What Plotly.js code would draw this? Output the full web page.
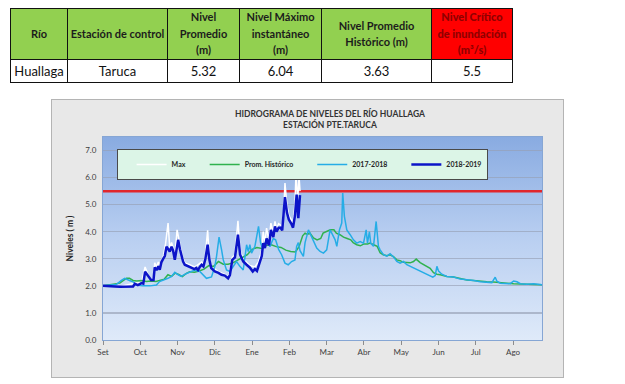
<!DOCTYPE html>
<html>
<head>
<meta charset="utf-8">
<script src="https://cdn.plot.ly/plotly-3.0.1.min.js"></script>
<style>
html,body{margin:0;padding:0;background:#fff;width:625px;height:384px;overflow:hidden;font-family:Lato,'Open Sans',sans-serif;}
#tbl{position:absolute;left:10px;top:8px;border-collapse:collapse;table-layout:fixed;width:502px;}
#tbl th,#tbl td{border:1px solid #111;text-align:center;vertical-align:middle;padding:0;white-space:pre-line;}
#tbl th{background:#92d050;font-weight:700;font-size:11px;line-height:16.5px;color:#1c1c1c;height:50px;}
#tbl th.crit{background:#ff0000;color:#8f0000;font-weight:900;}
#tbl td{font-size:13px;color:#111;height:22px;}
#chart{position:absolute;left:52px;top:100px;width:511px;height:277px;outline:1px solid #b4b4b4;}
</style>
</head>
<body>
<table id="tbl"><colgroup id="cols"></colgroup><thead><tr id="hrow"></tr></thead><tbody><tr id="drow"></tr></tbody></table>
<div id="chart"></div>
<script>
// ---------- table data ----------
const tableHeaders = [
  ['Río'],
  ['Estación de control'],
  ['Nivel', 'Promedio', '(m)'],
  ['Nivel Máximo', 'instantáneo', '(m)'],
  ['Nivel Promedio', 'Histórico  (m)'],
  ['Nivel Crítico', 'de inundación', '(m³/s)']
];
const tableRow = ['Huallaga', 'Taruca', '5.32', '6.04', '3.63', '5.5'];
const criticalLevel = 5.5;

// ---------- chart data ----------
const months = ['Set','Oct','Nov','Dic','Ene','Feb','Mar','Abr','May','Jun','Jul','Ago'];
const monthStartDays = [0,31,62,93,124,155,186,217,248,279,310,341];
const seasonDays = 365;

const maxDays = [0,14,26.5,32,35,37.5,40,42,43,44.5,46,47.2,48.6,50,52,54.1,55.5,57,58.3,59.7,61.6,63,64.5,66.6,68,72,76,78,80.5,82,83.5,85,87,88.5,90,96,101.3,104,105.5,107.5,109.7,112.2,114,116.6,122,126.3,129.2,130.5,132,133.2,134.6,136,138,139.6,141.6,143,144.3,146,147.5,149,150.2,151.3,153,154.5,156.5,158,159.6,160.5,161.8,163,163.8];
const maxVals = [2.00,1.98,2.10,2.12,2.70,2.40,2.25,2.28,2.85,2.70,2.88,2.72,2.95,3.05,3.55,4.32,3.40,3.60,3.40,3.05,4.07,3.70,3.40,3.00,2.85,2.78,2.70,2.75,2.85,2.88,2.80,3.10,4.05,3.00,2.72,2.52,2.42,2.32,2.55,3.05,3.15,4.40,3.30,3.00,2.75,2.70,2.88,3.10,3.30,4.00,3.60,4.13,3.65,4.32,3.95,4.38,4.10,4.30,4.25,4.20,4.70,5.80,4.95,4.60,4.45,4.30,5.00,6.25,5.10,6.05,5.50];

const histDays = [0,8,14,17,19.5,22,25,28,32,36,40,44,48,51,54,57,60,63,66,69,72,76,80,84,88,92,96,100,104,108,112,116,120,124,128,132,136,140,144,148,152,156,160,163,166,168,170,172,175,178,181,183,186,189,192,194,197,200,203,206,208,211,214,217,220,222,225,228,230.4,233,236,238.7,241.5,244.3,247,249.8,252.6,255.4,258.2,260.4,263.7,266.5,269.3,272,274.8,277.6,280.4,283,286,291.5,297,302.6,308,313.7,319.2,324.8,330.3,335.9,341.4,347,352.5,358,365];
const histVals = [2.00,2.05,2.10,2.20,2.28,2.28,2.20,2.18,2.20,2.16,2.18,2.16,2.22,2.25,2.41,2.35,2.47,2.42,2.34,2.45,2.52,2.50,2.55,2.62,2.75,2.72,2.90,2.80,2.80,2.85,2.95,3.05,3.15,3.35,3.42,3.38,3.50,3.52,3.45,3.42,3.32,3.27,3.25,3.45,3.85,3.95,3.90,3.95,3.77,3.70,3.75,3.95,4.01,4.07,4.07,3.95,3.89,3.80,3.75,3.70,3.60,3.52,3.48,3.55,3.55,3.58,3.52,3.46,3.22,3.15,3.11,3.15,3.08,2.96,2.93,2.87,2.86,2.85,2.90,2.99,2.86,2.78,2.72,2.65,2.49,2.43,2.41,2.38,2.35,2.33,2.27,2.22,2.20,2.17,2.15,2.14,2.13,2.10,2.08,2.07,2.08,2.07,2.04];

const y1718Days = [0,8,11,15.3,18,22,25,27.8,33,39,44.4,47,51.4,54,57,59.7,62.5,65,69,72,76,80.5,83.3,86,90.2,93,94.4,96.5,98.6,100,102.7,105.5,108.3,111,113.8,116.6,119.4,120.8,122.1,123.5,126.3,129.3,131,132.5,134.6,136.5,138.8,141.6,143.5,146,148.5,151.3,154,156.8,159.6,161,162.4,163.8,166.6,168,170.8,173.5,176.3,177.7,180.5,183.3,186,188.8,190.2,193,194.4,196.6,198.5,199.3,200.7,202.7,205.5,208.2,211,213.8,216.6,218.8,219.9,221.5,222.6,224.9,227.1,229,230.4,233.2,236,238.7,241.5,244.3,247,249.8,252.6,255.4,258.2,263.7,269.3,274.2,276.2,277.6,279,281.7,285.9,291.5,297,302.6,308.1,313.7,319.2,323.3,326.1,327.5,330.3,335.9,338.6,341.4,344.2,347,352.5,358.1,365];
const y1718Vals = [2.00,2.02,2.05,2.20,2.28,2.20,2.15,2.03,2.00,2.00,2.03,2.16,2.22,2.28,2.35,2.50,2.41,2.35,2.45,2.50,2.58,2.53,2.41,2.28,2.33,2.72,3.09,3.80,3.33,2.96,2.59,2.53,2.72,2.90,2.72,2.59,3.52,3.27,3.52,3.21,3.46,4.20,3.60,3.40,3.55,3.70,3.45,3.75,3.70,3.35,3.15,2.84,2.78,2.90,2.96,3.46,3.60,3.30,3.09,3.60,4.07,3.83,3.58,3.40,3.27,3.21,3.33,4.07,3.95,3.70,3.46,4.07,4.32,5.43,4.57,4.07,3.89,3.70,3.58,3.64,3.58,4.07,3.58,4.00,3.58,3.46,4.38,3.46,3.33,3.15,3.10,3.19,3.07,2.90,2.84,2.90,2.78,2.72,2.65,2.53,2.43,2.32,2.38,2.72,2.55,2.43,2.35,2.33,2.25,2.23,2.20,2.15,2.14,2.12,2.32,2.17,2.10,2.08,2.08,2.18,2.15,2.08,2.06,2.08,2.04];

const y1819Days = [0,5,10,14,20,25,26.5,29,32,33.5,35,37.5,40,42,43,44.5,46,47.2,48.6,50,51.4,52.8,54.1,55.5,57,58.3,59.7,61.1,62.5,64,65.2,66.6,68,70.8,73.6,76,77.5,79,80.5,82,83.5,85,87,88.5,90,93,96,98.6,101.3,104,105.5,107.5,109.7,112.2,114,116.6,119.4,122,124.5,126.3,128,129.2,130.5,132,133.2,134.6,136,138,139.6,141.6,143,144.3,146,147.5,149,150.2,151.3,153,154.5,156.5,158,159.6,161,162.4,163.8];
const y1819Vals = [2.00,2.00,1.98,1.97,1.97,1.98,2.08,2.03,2.10,2.08,2.52,2.35,2.22,2.22,2.68,2.58,2.72,2.60,2.88,3.00,3.10,3.45,3.35,3.27,3.45,3.30,2.96,3.40,3.70,3.35,3.15,2.90,2.78,2.72,2.65,2.62,2.66,2.58,2.70,2.78,2.72,2.97,3.52,2.95,2.66,2.53,2.48,2.41,2.38,2.28,2.40,2.96,3.05,3.89,3.15,2.90,2.78,2.68,2.53,2.62,2.55,2.72,2.96,3.10,3.58,3.40,3.75,3.50,4.07,3.80,4.20,4.00,4.15,4.15,4.05,4.60,5.28,4.70,4.45,4.30,4.15,4.60,5.37,4.50,5.35];

// ---------- build table ----------
const colWidths = [57,100,72,82,110,81];
const cols = document.getElementById('cols');
colWidths.forEach(w => { const c = document.createElement('col'); c.style.width = w + 'px'; cols.appendChild(c); });
const hrow = document.getElementById('hrow');
tableHeaders.forEach((lines, i) => {
  const th = document.createElement('th');
  th.textContent = lines.join('\n');
  if (i === tableHeaders.length - 1) th.className = 'crit';
  hrow.appendChild(th);
});
const drow = document.getElementById('drow');
tableRow.forEach(v => { const td = document.createElement('td'); td.textContent = v; drow.appendChild(td); });

// ---------- chart ----------
const FONT = 'Lato, "Open Sans", sans-serif';
const gradSvg = "<svg xmlns='http://www.w3.org/2000/svg' width='440' height='204' viewBox='0 0 440 204' preserveAspectRatio='none'>" +
  "<defs><linearGradient id='g' x1='0' y1='0' x2='0' y2='1'>" +
  "<stop offset='0' stop-color='#89abe1'/><stop offset='0.5' stop-color='#b9cff1'/><stop offset='1' stop-color='#dfeaf9'/>" +
  "</linearGradient></defs><rect width='440' height='204' fill='url(#g)'/></svg>";
const gradSrc = 'data:image/svg+xml;charset=utf-8,' + encodeURIComponent(gradSvg);

const traces = [
  {x: maxDays, y: maxVals, name: 'Max', type: 'scatter', mode: 'lines', line: {color: '#ffffff', width: 1.5}},
  {x: histDays, y: histVals, name: 'Prom. Histórico', type: 'scatter', mode: 'lines', line: {color: '#2fb24e', width: 1.5}},
  {x: y1718Days, y: y1718Vals, name: '2017-2018', type: 'scatter', mode: 'lines', line: {color: '#26ade6', width: 1.5}},
  {x: y1819Days, y: y1819Vals, name: '2018-2019', type: 'scatter', mode: 'lines', line: {color: '#0c14c8', width: 2.5}}
];

const layout = {
  width: 511, height: 277,
  margin: {l: 51, r: 21, t: 37, b: 37, pad: 0},
  paper_bgcolor: '#e8e8e8',
  plot_bgcolor: 'rgba(0,0,0,0)',
  font: {family: FONT, color: '#404040', size: 8},
  title: {
    text: 'HIDROGRAMA DE NIVELES DEL RÍO HUALLAGA<br>ESTACIÓN PTE.TARUCA',
    font: {family: FONT, size: 8.5, weight: 'bold', color: '#333333'},
    xref: 'paper', x: 0.517, xanchor: 'center',
    yref: 'container', y: 0.94, yanchor: 'middle'
  },
  showlegend: true,
  legend: {
    orientation: 'h', x: 0.031, xanchor: 'left', y: 0.941, yanchor: 'top',
    bgcolor: '#dcf5e7', bordercolor: '#4a4a4a', borderwidth: 1,
    font: {family: FONT, size: 7, weight: 'bold', color: '#262626'},
    indentation: 14
  },
  xaxis: {
    range: [0, seasonDays], tickmode: 'array', tickvals: monthStartDays, ticktext: months,
    ticks: 'outside', ticklen: 4, tickcolor: '#8c8c8c', tickwidth: 1,
    showgrid: false, zeroline: false, showline: true, linecolor: '#86a6d4', linewidth: 1, mirror: true,
    tickfont: {family: FONT, size: 8, color: '#404040'}, fixedrange: true
  },
  yaxis: {
    range: [0, 7.5], tick0: 0, dtick: 1, tickformat: '.1f',
    ticks: 'outside', ticklen: 4, tickcolor: 'rgba(0,0,0,0)',
    showgrid: true, gridcolor: 'rgba(150,160,180,0.65)', gridwidth: 1.2,
    zeroline: false, showline: true, linecolor: '#86a6d4', linewidth: 1, mirror: true,
    tickfont: {family: FONT, size: 8, color: '#404040'},
    title: {text: 'Niveles ( m )', standoff: 10, font: {family: FONT, size: 8.5, weight: 'bold', color: '#262626'}},
    fixedrange: true
  },
  images: [{source: gradSrc, xref: 'paper', yref: 'paper', x: 0, y: 1, sizex: 1, sizey: 1,
            xanchor: 'left', yanchor: 'top', sizing: 'stretch', layer: 'below'}],
  shapes: [{type: 'line', xref: 'paper', x0: 0, x1: 1, yref: 'y', y0: criticalLevel, y1: criticalLevel,
            line: {color: '#e1262c', width: 2.5}, layer: 'below'}]
};

Plotly.newPlot('chart', traces, layout, {staticPlot: true, displayModeBar: false});
</script>
</body>
</html>
